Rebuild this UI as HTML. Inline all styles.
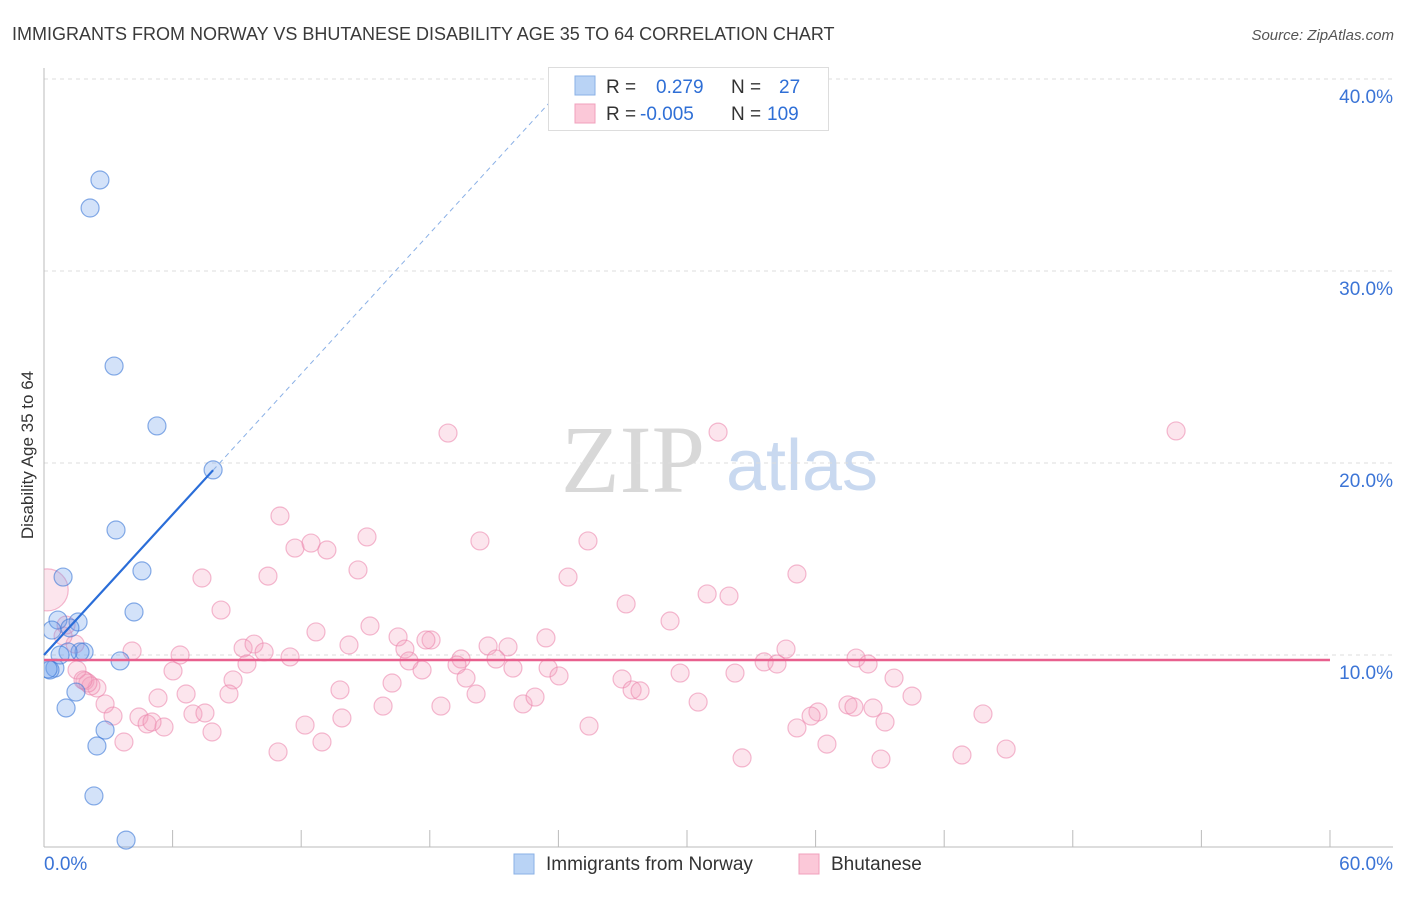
<!DOCTYPE html>
<html><head><meta charset="utf-8"><style>
body{margin:0;background:#fff;font-family:"Liberation Sans",sans-serif}
</style></head><body>
<svg id="c" width="1406" height="892" xmlns="http://www.w3.org/2000/svg" font-family="Liberation Sans, sans-serif">
<defs><clipPath id="plotclip"><rect x="44" y="60" width="1360" height="790"/></clipPath></defs>
<text x="12" y="40" font-size="18" fill="#3a3a3a">IMMIGRANTS FROM NORWAY VS BHUTANESE DISABILITY AGE 35 TO 64 CORRELATION CHART</text>
<text x="1394" y="40" font-size="15" fill="#555" font-style="italic" text-anchor="end">Source: ZipAtlas.com</text>
<text x="0" y="0" transform="translate(33,455) rotate(-90)" font-size="17" fill="#333" text-anchor="middle">Disability Age 35 to 64</text>
<g>
<text x="633" y="492" font-size="96" font-family="Liberation Serif, serif" fill="#d8d8d8" text-anchor="middle">ZIP</text>
<text x="802" y="490" font-size="72" fill="#c9d9f0" text-anchor="middle">atlas</text>
</g>
<g id="grid"></g><g id="axes"></g><g id="pts" clip-path="url(#plotclip)"></g><g id="lines"></g>
<g>
<rect x="548.5" y="67.5" width="280" height="63" fill="#fff" stroke="#ddd"/>
<rect x="575" y="76" width="20" height="19" fill="#b9d3f5" stroke="#8ab0e6"/>
<rect x="575" y="104" width="20" height="19" fill="#fbc8d8" stroke="#f0a0bc"/>
<text x="606" y="93" font-size="19" fill="#333">R =</text><text x="656" y="93" font-size="19" fill="#2f6fd6">0.279</text>
<text x="731" y="93" font-size="19" fill="#333">N =</text><text x="779" y="93" font-size="19" fill="#2f6fd6">27</text>
<text x="606" y="120" font-size="19" fill="#333">R =</text><text x="640" y="120" font-size="19" fill="#2f6fd6">-0.005</text>
<text x="731" y="120" font-size="19" fill="#333">N =</text><text x="767" y="120" font-size="19" fill="#2f6fd6">109</text>
</g>
<g>
<rect x="514" y="854" width="20" height="20" fill="#b9d3f5" stroke="#8ab0e6"/>
<text x="546" y="870" font-size="19" fill="#333">Immigrants from Norway</text>
<rect x="799" y="854" width="20" height="20" fill="#fbc8d8" stroke="#f0a0bc"/>
<text x="831" y="870" font-size="19" fill="#333">Bhutanese</text>
</g>
</svg>
<script>
const yTicks=[10,20,30,40];
const yTickLabels=["10.0%","20.0%","30.0%","40.0%"];
const xTickLabels=["0.0%","60.0%"];
const blueX=[2.61,2.15,3.27,5.27,7.89,3.36,4.57,0.89,4.20,0.65,1.59,1.21,0.37,1.87,1.68,1.12,3.55,0.51,0.28,1.49,1.03,2.85,2.47,2.33,3.83,0.19,0.75];
const blueY=[34.74,33.28,25.05,21.93,19.64,16.51,14.38,14.06,12.24,11.82,11.72,11.41,11.30,10.16,10.16,10.16,9.69,9.32,9.22,8.07,7.24,6.09,5.26,2.66,0.36,9.27,10.0];
const pinkX=[18.85,31.45,52.82,11.01,15.07,20.34,25.38,11.71,12.46,13.20,14.65,7.37,10.45,24.45,35.13,30.94,31.96,27.16,8.26,29.21,15.21,12.69,16.52,18.06,17.82,23.42,14.23,20.72,21.65,9.29,9.80,16.84,4.11,6.35,10.27,11.48,34.62,19.46,17.03,19.27,21.09,9.47,21.88,23.52,37.89,38.45,33.60,34.20,6.02,17.64,24.03,29.68,32.24,26.97,39.66,19.69,8.82,16.24,13.81,20.16,27.44,27.81,2.47,1.91,5.32,6.63,8.63,40.50,30.52,15.82,18.52,22.35,22.91,37.51,37.79,38.68,36.11,35.79,43.81,2.85,3.22,6.95,7.51,4.43,4.81,5.60,5.04,13.90,12.18,39.24,25.43,35.13,7.84,3.73,12.97,36.53,10.92,32.57,39.05,42.83,44.89,1.45,1.54,0.89,0.15,1.03,2.19,2.05,1.82];
const pinkY=[21.56,21.61,21.67,17.24,16.15,15.94,15.94,15.57,15.83,15.47,14.43,14.01,14.11,14.06,14.22,13.18,13.07,12.66,12.34,11.77,11.51,11.20,10.94,10.78,10.78,10.89,10.52,10.47,10.42,10.36,10.57,10.31,10.21,10.0,10.16,9.90,10.31,9.79,9.69,9.48,9.79,9.53,9.32,9.32,9.84,9.53,9.64,9.53,9.17,9.22,8.91,9.06,9.06,8.75,8.80,8.80,8.70,8.54,8.18,7.97,8.18,8.13,8.28,8.65,7.76,7.97,7.97,7.86,7.55,7.34,7.34,7.45,7.81,7.40,7.29,7.24,7.03,6.82,6.93,7.45,6.82,6.93,6.98,6.77,6.41,6.25,6.51,6.72,6.35,6.51,6.30,6.20,5.99,5.47,5.47,5.36,4.95,4.64,4.58,4.79,5.10,10.57,9.22,10.99,13.39,11.56,8.39,8.54,8.70];
const pinkR=pinkX.map((v,i)=>i===104?21:9);
const blueFit=[10.0,1.22]; // intercept, slope
const pinkFit=[9.74,0];
const X=v=>44+v*21.433, Y=v=>847-v*19.2;
const NS="http://www.w3.org/2000/svg";
function mk(t,a,p){const e=document.createElementNS(NS,t);for(const k in a)e.setAttribute(k,a[k]);document.getElementById(p).appendChild(e);return e;}
yTicks.forEach((t,i)=>{
 const l=mk('line',{x1:44,x2:1393,y1:Y(t),y2:Y(t),stroke:'#ddd','stroke-dasharray':'4,4'},'grid');
 
 
 const tx=mk('text',{x:1393,y:Y(t)+24,'font-size':19,fill:'#3b74d6','text-anchor':'end'},'grid');
 tx.textContent=yTickLabels[i];
 
 
});
mk('line',{x1:44,x2:44,y1:68,y2:847,stroke:'#bbb'},'axes');
mk('line',{x1:44,x2:1393,y1:847,y2:847,stroke:'#bbb'},'axes');
for(let i=0;i<=10;i++){mk('line',{x1:X(i*6),x2:X(i*6),y1:830,y2:847,stroke:'#bbb'},'axes');}
[[0,44,'start'],[60,1393,'end']].forEach((d,i)=>{const t=mk('text',{x:d[1],y:870,'font-size':19,fill:'#3b74d6','text-anchor':d[2]},'axes');t.textContent=xTickLabels[i];
 
 });
pinkX.forEach((x,i)=>{const c=mk('circle',{cx:X(x),cy:Y(pinkY[i]),r:pinkR[i],fill:'rgba(245,160,190,0.28)',stroke:'rgba(235,130,170,0.55)','stroke-width':1.2},'pts');
 
 });
blueX.forEach((x,i)=>{const c=mk('circle',{cx:X(x),cy:Y(blueY[i]),r:9,fill:'rgba(110,160,235,0.3)',stroke:'rgba(60,120,215,0.6)','stroke-width':1.2},'pts');
 
 });
const bx1=Math.max(...blueX), bxEnd=(40-blueFit[0])/blueFit[1];
const b1=mk('line',{x1:X(0),y1:Y(blueFit[0]),x2:X(bx1),y2:Y(blueFit[0]+blueFit[1]*bx1),stroke:'#2a6dd8','stroke-width':2.2},'lines');


const b2=mk('line',{x1:X(bx1),y1:Y(blueFit[0]+blueFit[1]*bx1),x2:X(bxEnd),y2:Y(40),stroke:'#8ab0e6','stroke-width':1,'stroke-dasharray':'5,4'},'lines');


const p1=mk('line',{x1:X(0),y1:Y(pinkFit[0]),x2:X(60),y2:Y(pinkFit[0]+pinkFit[1]*60),stroke:'#e8608e','stroke-width':2.4},'lines');


</script>
</body></html>
